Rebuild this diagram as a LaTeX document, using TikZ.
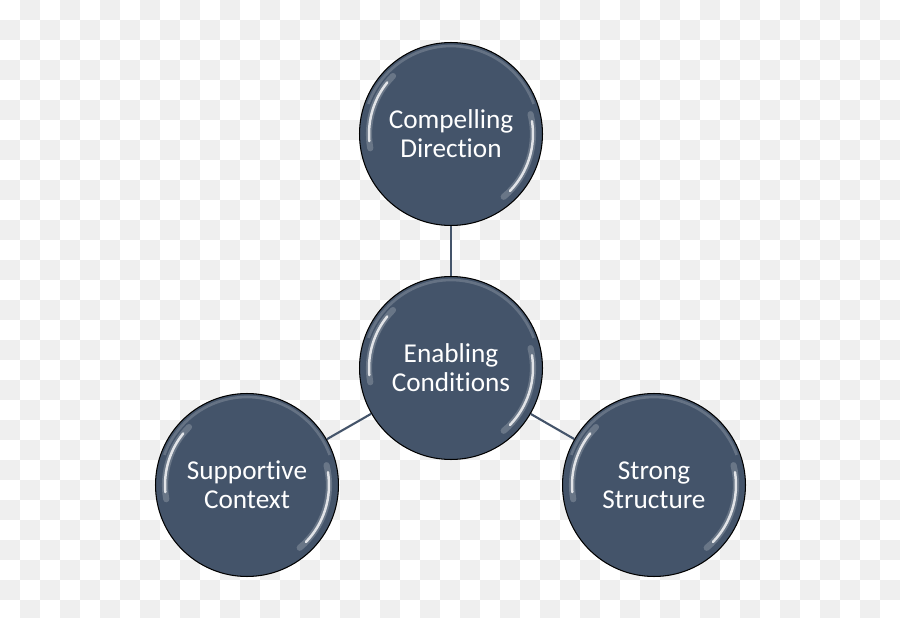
\documentclass[tikz,border=0pt]{standalone}
\usepackage{fontspec}
\setmainfont[Ligatures=NoCommon]{Carlito}
\usetikzlibrary{positioning}

\definecolor{slate}{HTML}{44546A}
\definecolor{checker}{HTML}{EFEFEF}

\tikzset{
  bubble/.style={circle, draw=black, line width=0.6pt, fill=slate, minimum size=3.66cm, inner sep=0pt,
    text=white, align=center, font=\fontsize{15.5}{16.5}\selectfont},
  link/.style={draw=slate, line width=1.2pt},
  gloss/.style={white, line width=1.4pt, opacity=0.8, line cap=round},
  glow/.style={white, line width=3.5pt, opacity=0.2, line cap=round},
  rim/.style={white, line width=1.5pt, opacity=0.18}
}

\begin{document}
\begin{tikzpicture}[x=0.02cm, y=-0.02cm]
  \useasboundingbox (0,0) rectangle (900,618);
  % checker background
  \foreach \i in {0,...,44} {
    \foreach \j in {0,...,30} {
      \pgfmathtruncatemacro{\odd}{mod(\i+\j,2)}
      \ifnum\odd=1 \fill[checker] (20*\i,20*\j) rectangle ++(20,20); \fi
    }
  }

  \node[bubble] (enabling)  at (451,368) {Enabling\\Conditions};
  \node[bubble] (direction) at (451,134) {Compelling\\Direction};
  \node[bubble] (context)   at (247,485) {Supportive\\Context};
  \node[bubble] (structure) at (654,485) {Strong\\Structure};

  \draw[link] (direction) -- (enabling);
  \draw[link] (enabling) -- (context);
  \draw[link] (enabling) -- (structure);

  % glossy edges
  \foreach \n in {direction,enabling,context,structure} {
    \draw[rim] (\n.center) ++(20:1.76cm) arc[start angle=20, end angle=160, radius=1.76cm];
    \draw[glow] (\n.center) ++(135:1.64cm) arc[start angle=135, end angle=190, radius=1.64cm];
    \draw[glow] (\n.center) ++(-50:1.64cm) arc[start angle=-50, end angle=14, radius=1.64cm];
    \draw[gloss] (\n.center) ++(141:1.64cm) arc[start angle=141, end angle=185, radius=1.64cm];
    \draw[gloss] (\n.center) ++(-44:1.64cm) arc[start angle=-44, end angle=9, radius=1.64cm];
  }
\end{tikzpicture}
\end{document}
